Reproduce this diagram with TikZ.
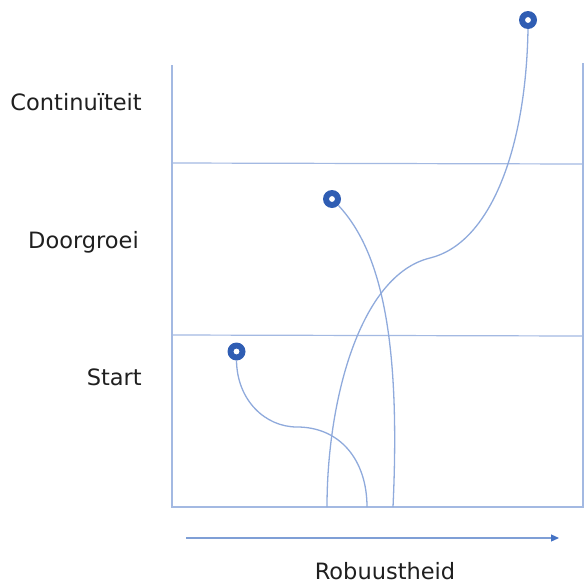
\documentclass[tikz,border=0pt]{standalone}
\usepackage{fontspec}
\setmainfont{DejaVu Sans}
\usetikzlibrary{arrows.meta}
\definecolor{framec}{HTML}{A3B9E2}
\definecolor{curvec}{HTML}{8FAADC}
\definecolor{ringc}{HTML}{2F5DB3}
\definecolor{arrowc}{HTML}{7F9FD6}
\definecolor{tipc}{HTML}{4472C4}
\definecolor{textc}{HTML}{1F1F1F}
\tikzset{
  frameline/.style={draw=framec, line width=1.2pt},
  curveline/.style={draw=curvec, line width=1.3pt},
  ring/.style={circle, fill=ringc, minimum size=18pt, inner sep=0pt, outer sep=0pt},
  hole/.style={fill=white},
  lab/.style={font=\fontsize{22.5}{26}\selectfont, text=textc, inner sep=0pt},
  axisarrow/.style={draw=arrowc, line width=1.2pt, -{Triangle[length=8pt,width=7pt,fill=tipc,color=tipc]}}
}
\begin{document}
\begin{tikzpicture}[x=1pt,y=-1pt]
\useasboundingbox (0,0) rectangle (586,584);
% frame
\coordinate (tl) at (172,65);
\coordinate (bl) at (172,507);
\coordinate (br) at (583,507);
\coordinate (tr) at (583,63);
\coordinate (l1) at (172,163);
\coordinate (r1) at (583,164);
\coordinate (l2) at (172,335);
\coordinate (r2) at (583,336);
\draw[frameline] (tl) -- (bl) -- (br) -- (tr);
\draw[frameline] (l1) -- (r1);
\draw[frameline] (l2) -- (r2);
% end points of curves
\coordinate (e1) at (367,507);
\coordinate (e2) at (393,507);
\coordinate (e3) at (327,507);
\coordinate (m1) at (297,427);
\coordinate (m3) at (430,258);
% rings
\node[ring] (p1) at (236.5,351.5) {};
\node[ring] (p2) at (332,199) {};
\node[ring] (p3) at (528,20) {};
\fill[hole] (p1.center) circle (2.9);
\fill[hole] (p2.center) circle (2.9);
\fill[hole] (p3.center) circle (2.9);
% curves
\draw[curveline] (p1.south) .. controls (237,400) and (265,427) .. (m1)
   .. controls (340,427) and (367,460) .. (e1);
\draw[curveline] (p2.south east) .. controls (380,250) and (401,335) .. (e2);
\draw[curveline] (e3) .. controls (327,400) and (360,275) .. (m3)
   .. controls (490,243.4) and (526,150) .. (p3.south);
% labels
\node[lab, anchor=base east] (c) at (142,110) {Continuïteit};
\node[lab, anchor=base east] (d) at (139,248) {Doorgroei};
\node[lab, anchor=base east] (s) at (142,385) {Start};
\node[lab, anchor=base] (r) at (385,579) {Robuustheid};
% axis arrow
\coordinate (a0) at (186,538);
\coordinate (a1) at (559,538);
\draw[axisarrow] (a0) -- (a1);
\end{tikzpicture}
\end{document}
